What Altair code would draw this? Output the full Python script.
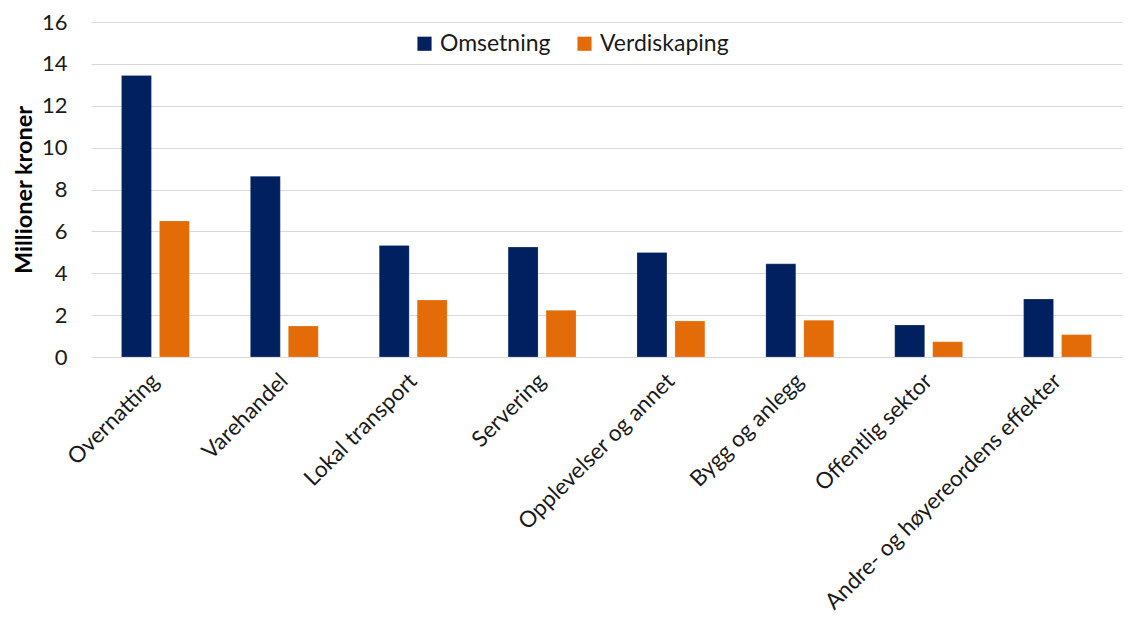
import altair as alt
import pandas as pd

categories = ["Overnatting", "Varehandel", "Lokal transport", "Servering",
              "Opplevelser og annet", "Bygg og anlegg", "Offentlig sektor",
              "Andre- og høyereordens effekter"]
omsetning = [13.45, 8.63, 5.33, 5.25, 4.99, 4.45, 1.53, 2.77]
verdiskaping = [6.50, 1.48, 2.72, 2.23, 1.72, 1.76, 0.73, 1.07]
series = ["Omsetning", "Verdiskaping"]
colors = ["#002060", "#E36C09"]

rows = []
for c, o, v in zip(categories, omsetning, verdiskaping):
    rows.append({"kategori": c, "serie": series[0], "verdi": o})
    rows.append({"kategori": c, "serie": series[1], "verdi": v})
df = pd.DataFrame(rows)

FONT = "Lato"

chart = alt.Chart(df).mark_bar(stroke="white", strokeWidth=0.5, strokeOpacity=0.4).encode(
    x=alt.X("kategori:N", sort=categories,
            scale=alt.Scale(paddingInner=0.473, paddingOuter=0.2365),
            axis=alt.Axis(title=None, labelAngle=-45, labelAlign="right",
                          labelBaseline="middle", labelPadding=20,
                          labelFontSize=22.5, labelColor="#1a1a1a", labelFont=FONT,
                          ticks=False, domain=False, grid=False, labelLimit=500)),
    xOffset=alt.XOffset("serie:N", sort=series,
                        scale=alt.Scale(paddingInner=0.2105, paddingOuter=0)),
    y=alt.Y("verdi:Q", scale=alt.Scale(domain=[0, 16]),
            axis=alt.Axis(title="Millioner kroner", values=[0, 2, 4, 6, 8, 10, 12, 14, 16],
                          titleFontSize=23.5, titleFontWeight="bold", titleColor="#000000",
                          titleFont=FONT, titlePadding=5,
                          labelFontSize=22, labelColor="#1a1a1a", labelFont=FONT,
                          labelPadding=24, ticks=False, domain=False,
                          gridColor="#d9d9d9", gridWidth=1.2)),
    color=alt.Color("serie:N", sort=series,
                    scale=alt.Scale(domain=series, range=colors),
                    legend=alt.Legend(title=None, orient="none", direction="horizontal",
                                      legendX=322, legendY=10, symbolType="square",
                                      symbolSize=200, symbolStrokeWidth=0,
                                      labelFontSize=23, labelFont=FONT,
                                      labelColor="#1a1a1a", columnPadding=22,
                                      symbolOffset=0)),
).properties(
    width=1031, height=335,
    autosize=alt.AutoSizeParams(type="none"),
    padding={"left": 83, "top": 14, "right": 5, "bottom": 262},
).configure_view(stroke=None)

chart.save("out.html", embed_options={"renderer": "svg", "actions": False})
